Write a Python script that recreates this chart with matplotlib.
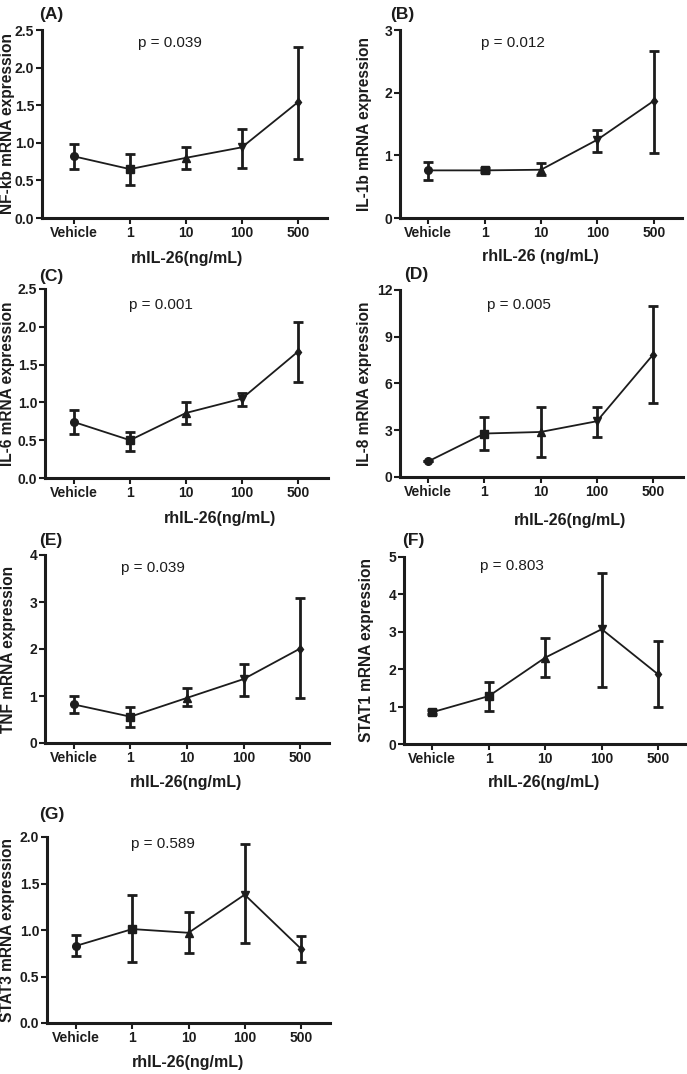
import matplotlib
matplotlib.use("Agg")
import matplotlib.pyplot as plt
from matplotlib import font_manager as fm
import numpy as np

# ---------------- data ----------------
categories = ["Vehicle", "1", "10", "100", "500"]

nfkb_mean = [0.82, 0.65, 0.80, 0.94, 1.54]
nfkb_lo = [0.65, 0.44, 0.65, 0.67, 0.79]
nfkb_hi = [0.98, 0.85, 0.95, 1.18, 2.27]

il1b_mean = [0.76, 0.76, 0.77, 1.25, 1.87]
il1b_lo = [0.61, 0.73, 0.68, 1.05, 1.04]
il1b_hi = [0.90, 0.79, 0.87, 1.41, 2.67]

il6_mean = [0.74, 0.50, 0.86, 1.05, 1.67]
il6_lo = [0.58, 0.36, 0.72, 0.95, 1.27]
il6_hi = [0.90, 0.61, 1.00, 1.13, 2.06]

il8_mean = [1.00, 2.79, 2.89, 3.58, 7.86]
il8_lo = [1.00, 1.71, 1.29, 2.57, 4.76]
il8_hi = [1.00, 3.86, 4.50, 4.50, 10.97]

tnf_mean = [0.82, 0.56, 0.96, 1.36, 2.01]
tnf_lo = [0.64, 0.33, 0.79, 1.00, 0.96]
tnf_hi = [1.00, 0.77, 1.16, 1.69, 3.08]

stat1_mean = [0.85, 1.28, 2.31, 3.07, 1.86]
stat1_lo = [0.80, 0.88, 1.80, 1.53, 1.00]
stat1_hi = [0.90, 1.65, 2.84, 4.57, 2.75]

stat3_mean = [0.83, 1.01, 0.97, 1.38, 0.80]
stat3_lo = [0.72, 0.66, 0.75, 0.86, 0.66]
stat3_hi = [0.95, 1.38, 1.19, 1.92, 0.94]

p_values = ["p = 0.039", "p = 0.012", "p = 0.001", "p = 0.005",
            "p = 0.039", "p = 0.803", "p = 0.589"]
panel_letters = ["(A)", "(B)", "(C)", "(D)", "(E)", "(F)", "(G)"]
ylabels = ["NF-kb mRNA expression", "IL-1b mRNA expression", "IL-6 mRNA expression",
           "IL-8 mRNA expression", "TNF mRNA expression", "STAT1 mRNA expression",
           "STAT3 mRNA expression"]
xlabels = ["rhIL-26(ng/mL)", "rhIL-26 (ng/mL)", "rhIL-26(ng/mL)", "rhIL-26(ng/mL)",
           "rhIL-26(ng/mL)", "rhIL-26(ng/mL)", "rhIL-26(ng/mL)"]
yticks_list = [[0, 0.5, 1.0, 1.5, 2.0, 2.5], [0, 1, 2, 3], [0, 0.5, 1.0, 1.5, 2.0, 2.5],
               [0, 3, 6, 9, 12], [0, 1, 2, 3, 4], [0, 1, 2, 3, 4, 5],
               [0, 0.5, 1.0, 1.5, 2.0]]
ytick_fmt = ["{:.1f}", "{:.0f}", "{:.1f}", "{:.0f}", "{:.0f}", "{:.0f}", "{:.1f}"]

means = [nfkb_mean, il1b_mean, il6_mean, il8_mean, tnf_mean, stat1_mean, stat3_mean]
lows = [nfkb_lo, il1b_lo, il6_lo, il8_lo, tnf_lo, stat1_lo, stat3_lo]
highs = [nfkb_hi, il1b_hi, il6_hi, il8_hi, tnf_hi, stat1_hi, stat3_hi]
markers = ["o", "s", "^", "v", "d"]
stat1_markers = ["s", "s", "^", "v", "d"]

# ---------------- layout (pixels) ----------------
W, H = 687, 1074
# left, top, right, bottom
boxes = [(42, 30, 327, 218), (400, 30, 682, 218),
         (45, 289, 328, 478), (400, 290, 683, 477),
         (45, 555, 329, 743), (404, 557, 687, 744),
         (47, 837, 330, 1023)]
xlims = [(-0.57, 4.52), (-0.5, 4.5), (-0.52, 4.54), (-0.5, 4.53),
         (-0.51, 4.51), (-0.5, 4.51), (-0.52, 4.52)]
p_pos = [(0.45, 0.93), (0.40, 0.93), (0.41, 0.915), (0.42, 0.92),
         (0.38, 0.93), (0.38, 0.95), (0.41, 0.96)]
title_px = [(39, 15), (390, 15), (39, 276), (404, 275), (39, 540), (402, 540), (39, 815)]
ylabel_px = [15, 372, 15, 372, 16, 374, 15]   # right edge of rotated label
xlabel_px = [(187, 258), (540, 257), (220, 518), (570, 520), (186, 783), (544, 783), (188, 1063)]

names = {f.name for f in fm.fontManager.ttflist}
base = "Liberation Sans" if "Liberation Sans" in names else "DejaVu Sans"
narrow = "Liberation Sans Narrow" if "Liberation Sans Narrow" in names else base

col = "#1c1c1c"
fig = plt.figure(figsize=(W / 100, H / 100), dpi=100)

for i in range(7):
    l, t, r, b = boxes[i]
    ax = fig.add_axes([l / W, (H - b) / H, (r - l) / W, (b - t) / H])
    fam = narrow if i in (4, 5) else base
    x = np.arange(len(categories))
    m = np.array(means[i]); lo = np.array(lows[i]); hi = np.array(highs[i])
    ax.errorbar(x, m, yerr=[m - lo, hi - m], fmt="none", ecolor=col,
                elinewidth=2.0, capsize=3.5, capthick=2.0, zorder=2)
    ax.plot(x, m, color=col, lw=1.3, zorder=3)
    mk = stat1_markers if i == 5 else markers
    for xi, yi, mm in zip(x, m, mk):
        ms = 4.5 if mm == "d" else 5.5
        ax.plot(xi, yi, marker=mm, color=col, ms=ms, zorder=4)
    ax.set_xlim(*xlims[i])
    yt = yticks_list[i]
    ax.set_ylim(0, yt[-1])
    ax.set_yticks(yt)
    ax.set_yticklabels([ytick_fmt[i].format(v) for v in yt], fontsize=10,
                       fontweight="bold", family=fam, color=col)
    ax.set_xticks(x)
    ax.set_xticklabels(categories, fontsize=10, fontweight="bold", family=fam, color=col)
    for s in ("top", "right"):
        ax.spines[s].set_visible(False)
    for s in ("left", "bottom"):
        ax.spines[s].set_linewidth(2.2)
        ax.spines[s].set_color(col)
    ax.tick_params(axis="both", direction="out", length=4, width=1.5, color=col, pad=1.5)
    ax.set_ylabel(ylabels[i], fontsize=11.2, fontweight="bold", family=fam, color=col)
    ax.yaxis.set_label_coords((ylabel_px[i] - l) / (r - l), 0.5)
    ax.set_xlabel(xlabels[i], fontsize=11.5, fontweight="bold", family=fam, color=col)
    xl, yl = xlabel_px[i]
    ax.xaxis.set_label_coords((xl - l) / (r - l), (b - yl) / (b - t))
    ax.xaxis.label.set_va("center")
    ax.text(p_pos[i][0], p_pos[i][1], p_values[i], transform=ax.transAxes,
            ha="center", va="center", fontsize=11, family=fam, color=col)
    tx, ty = title_px[i]
    fig.text(tx / W, 1 - ty / H, panel_letters[i], fontsize=12.5, fontweight="bold",
             family=base, color=col, ha="left", va="center")

fig.savefig("out.png", dpi=100)
